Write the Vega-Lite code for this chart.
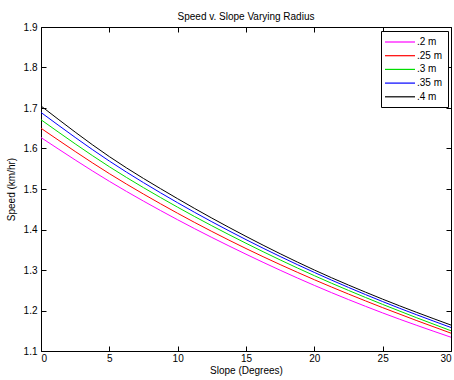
{
  "$schema": "https://vega.github.io/schema/vega-lite/v6.json",
  "width": 410,
  "height": 324,
  "autosize": "none",
  "padding": {"left": 41, "top": 27, "right": 3, "bottom": 29},
  "background": "white",
  "config": {
    "font": "Liberation Sans",
    "view": {"stroke": "black", "strokeWidth": 1},
    "axis": {
      "grid": false,
      "domain": false,
      "tickColor": "black",
      "tickSize": 5,
      "offset": -5,
      "labelColor": "black",
      "labelFontSize": 10,
      "titleFontSize": 10,
      "titleFontWeight": "normal",
      "titleColor": "black"
    }
  },
  "title": {"text": "Speed v. Slope Varying Radius", "fontSize": 10, "fontWeight": "normal", "color": "black", "offset": 0},
  "data": {
    "values": [
      {"slope": 0, "speed": 1.627, "radius": ".2 m"},
      {"slope": 5, "speed": 1.519, "radius": ".2 m"},
      {"slope": 10, "speed": 1.424, "radius": ".2 m"},
      {"slope": 15, "speed": 1.339, "radius": ".2 m"},
      {"slope": 20, "speed": 1.262, "radius": ".2 m"},
      {"slope": 25, "speed": 1.194, "radius": ".2 m"},
      {"slope": 30, "speed": 1.134, "radius": ".2 m"},
      {"slope": 0, "speed": 1.650, "radius": ".25 m"},
      {"slope": 5, "speed": 1.538, "radius": ".25 m"},
      {"slope": 10, "speed": 1.440, "radius": ".25 m"},
      {"slope": 15, "speed": 1.353, "radius": ".25 m"},
      {"slope": 20, "speed": 1.276, "radius": ".25 m"},
      {"slope": 25, "speed": 1.207, "radius": ".25 m"},
      {"slope": 30, "speed": 1.144, "radius": ".25 m"},
      {"slope": 0, "speed": 1.671, "radius": ".3 m"},
      {"slope": 5, "speed": 1.555, "radius": ".3 m"},
      {"slope": 10, "speed": 1.455, "radius": ".3 m"},
      {"slope": 15, "speed": 1.366, "radius": ".3 m"},
      {"slope": 20, "speed": 1.286, "radius": ".3 m"},
      {"slope": 25, "speed": 1.215, "radius": ".3 m"},
      {"slope": 30, "speed": 1.150, "radius": ".3 m"},
      {"slope": 0, "speed": 1.689, "radius": ".35 m"},
      {"slope": 5, "speed": 1.569, "radius": ".35 m"},
      {"slope": 10, "speed": 1.466, "radius": ".35 m"},
      {"slope": 15, "speed": 1.375, "radius": ".35 m"},
      {"slope": 20, "speed": 1.294, "radius": ".35 m"},
      {"slope": 25, "speed": 1.222, "radius": ".35 m"},
      {"slope": 30, "speed": 1.158, "radius": ".35 m"},
      {"slope": 0, "speed": 1.705, "radius": ".4 m"},
      {"slope": 5, "speed": 1.580, "radius": ".4 m"},
      {"slope": 10, "speed": 1.476, "radius": ".4 m"},
      {"slope": 15, "speed": 1.383, "radius": ".4 m"},
      {"slope": 20, "speed": 1.300, "radius": ".4 m"},
      {"slope": 25, "speed": 1.228, "radius": ".4 m"},
      {"slope": 30, "speed": 1.164, "radius": ".4 m"}
    ]
  },
  "layer": [
    {
      "mark": {"type": "line", "strokeWidth": 1, "interpolate": "monotone"},
      "encoding": {
        "x": {"field": "slope", "type": "quantitative", "scale": {"domain": [0, 30], "nice": false},
              "axis": {"orient": "bottom", "title": "Slope (Degrees)", "values": [0, 5, 10, 15, 20, 25, 30], "labelPadding": 2, "titlePadding": 2}},
        "y": {"field": "speed", "type": "quantitative", "scale": {"domain": [1.1, 1.9], "nice": false, "zero": false},
              "axis": {"orient": "left", "title": "Speed (km/hr)", "values": [1.1, 1.2, 1.3, 1.4, 1.5, 1.6, 1.7, 1.8, 1.9], "format": ".1f", "labelPadding": 4, "titlePadding": 7}},
        "color": {"field": "radius", "type": "nominal",
                  "scale": {"domain": [".2 m", ".25 m", ".3 m", ".35 m", ".4 m"], "range": ["#ff00ff", "#ff0000", "#00dd00", "#0000ff", "#000000"]},
                  "legend": {"orient": "none", "legendX": 340, "legendY": 4, "title": null, "symbolType": "M-3,0H3", "symbolSize": 100, "symbolStrokeWidth": 1, "symbolOffset": 8,
                             "strokeColor": "black", "fillColor": "white", "padding": 5, "labelFontSize": 10, "labelColor": "black", "rowPadding": 2.7, "cornerRadius": 0, "labelOffset": 11,
                             "encode": {"symbols": {"update": {"stroke": {"scale": "color", "field": "value"}, "fill": {"value": "transparent"}, "strokeWidth": {"value": 1.2}}}}}}
      }
    },
    {
      "mark": {"type": "line", "opacity": 0},
      "encoding": {
        "x": {"field": "slope", "type": "quantitative",
              "axis": {"orient": "top", "title": null, "labels": false, "values": [0, 5, 10, 15, 20, 25, 30]}},
        "y": {"field": "speed", "type": "quantitative",
              "axis": {"orient": "right", "title": null, "labels": false, "values": [1.1, 1.2, 1.3, 1.4, 1.5, 1.6, 1.7, 1.8, 1.9]}},
        "detail": {"field": "radius", "type": "nominal"}
      }
    }
  ],
  "resolve": {"axis": {"x": "independent", "y": "independent"}}
}
